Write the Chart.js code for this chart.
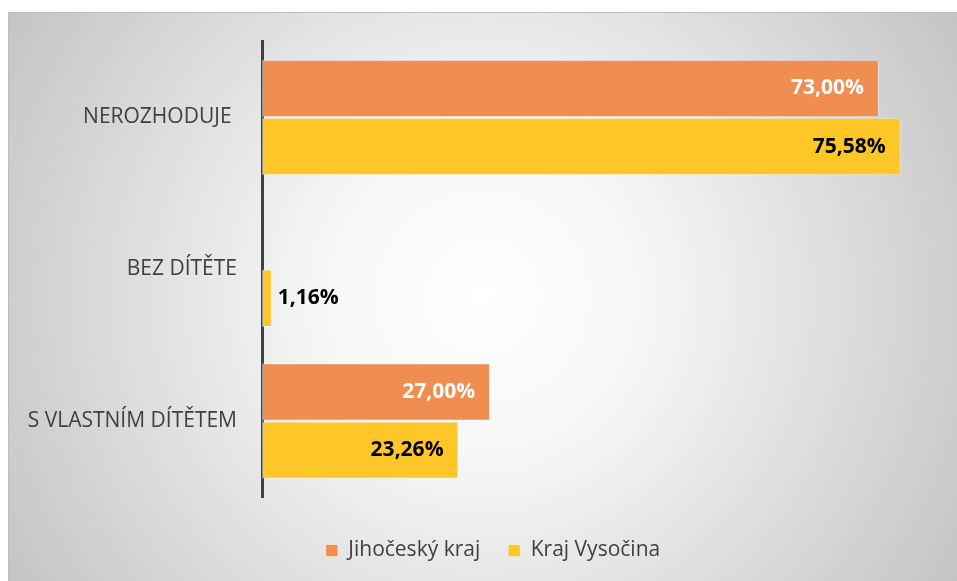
<!DOCTYPE html>
<html>
<head>
<meta charset="utf-8">
<script src="https://cdn.jsdelivr.net/npm/chart.js@4.4.0/dist/chart.umd.min.js"></script>
<style>
    html, body { margin: 0; padding: 0; background: #ffffff; }
    #panel {
        position: absolute; left: 8px; top: 12px; width: 949px; height: 569px;
        background: radial-gradient(circle farthest-corner at 50% 50%, #ffffff 0%, #f6f6f6 30%, #c4c4c4 100%);
        box-shadow: inset 1px 1px 0 #bdbdbd;
    }
</style>
</head>
<body>
<div id="panel"><canvas id="chart"></canvas></div>
<script>
// data
const categories = ['NEROZHODUJE ', 'BEZ DÍTĚTE', 'S VLASTNÍM DÍTĚTEM'];
const jihocesky = [73.00, 0, 27.00];
const vysocina = [75.58, 1.16, 23.26];
const seriesNames = ['Jihočeský kraj', 'Kraj Vysočina'];

const textColor = '#404040';
const fmt = v => v.toFixed(2).replace('.', ',') + '%';

// value labels at the bar ends
const barLabels = {
    id: 'barLabels',
    afterDatasetsDraw(chart) {
        const { ctx } = chart;
        ctx.save();
        ctx.font = 'bold 21px "Open Sans"';
        ctx.textBaseline = 'middle';
        chart.data.datasets.forEach((ds, di) => {
            chart.getDatasetMeta(di).data.forEach((bar, i) => {
                const v = ds.data[i];
                if (!v) return;
                const txt = fmt(v);
                const w = ctx.measureText(txt).width;
                const len = bar.x - bar.base;
                if (len > w + 30) {
                    ctx.textAlign = 'right';
                    ctx.fillStyle = di === 0 ? '#ffffff' : '#000000';
                    ctx.fillText(txt, bar.x - 15, bar.y);
                } else {
                    ctx.textAlign = 'left';
                    ctx.fillStyle = '#000000';
                    ctx.fillText(txt, bar.x + 6, bar.y);
                }
            });
        });
        ctx.restore();
    }
};

// legend sits a bit right of the canvas centre in the original
const legendShift = {
    id: 'legendShift',
    afterLayout(chart) {
        chart.legend.left += 20;
        chart.legend.right += 20;
    }
};

new Chart(document.getElementById('chart'), {
    type: 'bar',
    data: {
        labels: categories,
        datasets: [
            {
                label: seriesNames[0],
                data: jihocesky,
                backgroundColor: '#ef8e50',
                borderColor: 'rgba(255,255,255,0.45)',
                borderWidth: 1,
                borderSkipped: false,
                categoryPercentage: 0.765,
                barPercentage: 0.99,
            },
            {
                label: seriesNames[1],
                data: vysocina,
                backgroundColor: '#fec626',
                borderColor: 'rgba(255,255,255,0.45)',
                borderWidth: 1,
                borderSkipped: false,
                categoryPercentage: 0.765,
                barPercentage: 0.99,
            },
        ]
    },
    options: {
        indexAxis: 'y',
        responsive: true,
        maintainAspectRatio: false,
        animation: false,
        layout: { padding: { top: 20, right: 19, bottom: 10, left: 0 } },
        scales: {
            x: {
                min: 0, max: 80,
                grid: { display: false },
                border: { display: false },
                ticks: { display: false },
                afterFit: (scale) => { scale.height = 15; },
            },
            y: {
                grid: { display: false },
                border: { display: true, color: '#404040', width: 3 },
                ticks: {
                    color: textColor,
                    padding: 17,
                    font: { family: '"Open Sans"', size: 21 },
                },
                afterFit: (scale) => { scale.width = 254; },
            }
        },
        plugins: {
            legend: {
                position: 'bottom',
                labels: {
                    color: textColor,
                    boxWidth: 12,
                    boxHeight: 12,
                    padding: 28,
                    font: { family: '"Open Sans"', size: 21 },
                },
            },
            tooltip: { enabled: false },
        },
    },
    plugins: [barLabels, legendShift],
});
</script>
</body>
</html>
